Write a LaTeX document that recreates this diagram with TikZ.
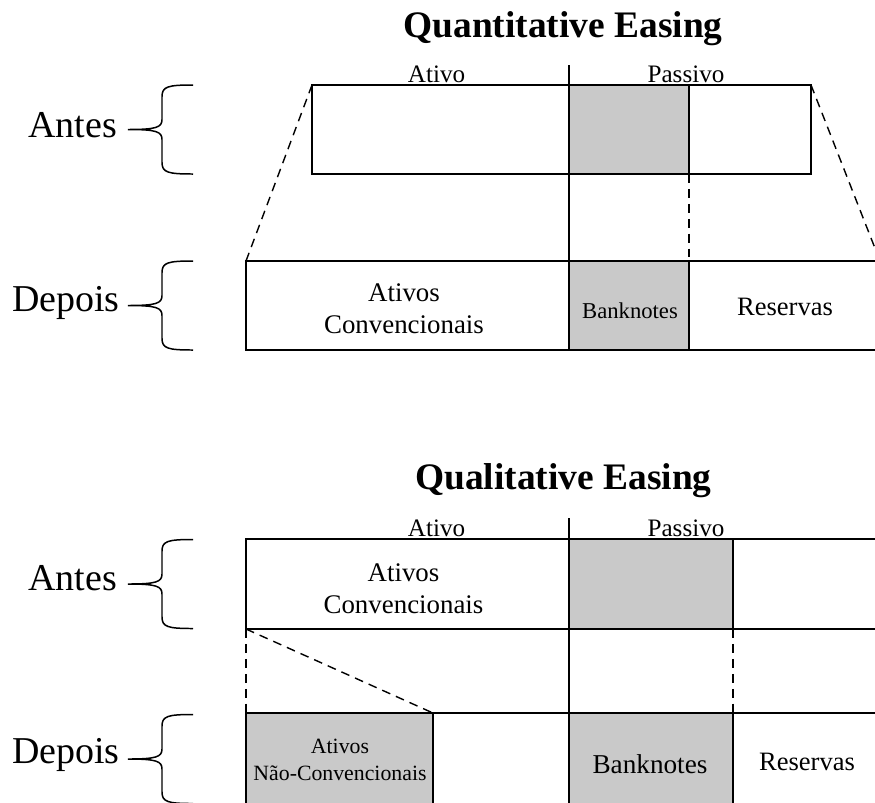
\documentclass[tikz,border=0pt]{standalone}
\usepackage{fontspec}
\setmainfont{Liberation Serif}
\usetikzlibrary{positioning}

\tikzset{
  cell/.style={draw, line width=1.1pt},
  shade/.style={fill=black!21},
  divider/.style={line width=0.7pt},
  guide/.style={line width=0.8pt, dash pattern=on 5pt off 3.5pt},
  heading/.style={inner sep=0pt, anchor=base, font=\bfseries\fontsize{21.3pt}{24pt}\selectfont},
  side/.style={inner sep=0pt, anchor=base, font=\fontsize{14.3pt}{16pt}\selectfont},
  stage/.style={inner sep=0pt, anchor=base, font=\fontsize{21.6pt}{24pt}\selectfont},
  entry/.style={inner sep=0pt, align=center, font=\fontsize{15.3pt}{18.1pt}\selectfont},
  brace/.pic={
    \draw[line width=0.85pt] (65,-44.5) .. controls (40,-44.5) and (34,-43) .. (34,-33)
      -- (34,-10) .. controls (34,-2) and (28,0) .. (0,0)
      .. controls (28,0) and (34,2) .. (34,10) -- (34,33)
      .. controls (34,43) and (40,44.5) .. (65,44.5);
  }
}

\begin{document}
\begin{tikzpicture}[x=0.02cm, y=-0.02cm]
\useasboundingbox (0,0) rectangle (875,802);
\clip (0,0) rectangle (875,802);

% Quantitative Easing
\node[heading] (qetitle) at (563,37) {Quantitative Easing};
\node[side] (qeativo) at (436.5,82) {Ativo};
\node[side] (qepassivo) at (686,82) {Passivo};
\coordinate (qetop) at (569,65);
\coordinate (qebot) at (569,350);

\coordinate (qa-nw) at (312,85);
\coordinate (qa-ne) at (811,85);
\coordinate (qa-gs) at (689,174);
\coordinate (qd-nw) at (246,261);
\coordinate (qd-ne) at (880,261);
\coordinate (qd-gn) at (689,261);

\draw[cell] (qa-nw) rectangle (811,174);
\draw[cell, shade] (569,85) rectangle (qa-gs);
\draw[cell] (qd-nw) rectangle (900,350);
\draw[cell, shade] (569,261) rectangle (689,350);
\draw[divider] (qetop) -- (qebot);

\draw[guide] (qa-nw) -- (qd-nw);
\draw[guide] (qa-ne) -- (qd-ne);
\draw[guide] (qa-gs) -- (qd-gn);

\node[entry] (qconv) at (404,308.5) {Ativos\\Convencionais};
\node[entry, anchor=base, font=\fontsize{12.9pt}{15pt}\selectfont] (qnotes) at (630,318) {Banknotes};
\node[entry, anchor=base, font=\fontsize{15.1pt}{17pt}\selectfont] (qres) at (785,315) {Reservas};

\node[stage] (qantes) at (72.5,137) {Antes};
\node[stage] (qdepois) at (66,311) {Depois};
\pic at (128,129.5) {brace};
\pic at (128,305.5) {brace};

% Qualitative Easing
\node[heading] (qltitle) at (563.5,489) {Qualitative Easing};
\node[side] (qlativo) at (436.5,536) {Ativo};
\node[side] (qlpassivo) at (686,536) {Passivo};
\coordinate (qltop) at (569,518);
\coordinate (qlbot) at (569,820);

\coordinate (la-sw) at (246,629);
\coordinate (la-gs) at (733,629);
\coordinate (ld-nw) at (246,713);
\coordinate (ld-gn) at (433,713);
\coordinate (ld-pn) at (733,713);

\draw[cell] (246,539) rectangle (900,629);
\draw[cell, shade] (569,539) rectangle (la-gs);
\draw[cell] (ld-nw) rectangle (900,820);
\draw[cell, shade] (ld-nw) rectangle (433,820);
\draw[cell, shade] (569,713) rectangle (733,820);
\draw[divider] (qltop) -- (qlbot);

\draw[guide] (la-sw) -- (ld-nw);
\draw[guide] (la-sw) -- (ld-gn);
\draw[guide] (la-gs) -- (ld-pn);

\node[entry] (lconv) at (403.5,589) {Ativos\\Convencionais};
\node[entry, font=\fontsize{12.4pt}{15.3pt}\selectfont] (lnonconv) at (340,760) {Ativos\\Não-Convencionais};
\node[entry, anchor=base, font=\fontsize{15.5pt}{17pt}\selectfont] (lnotes) at (650,773) {Banknotes};
\node[entry, anchor=base, font=\fontsize{15.1pt}{17pt}\selectfont] (lres) at (807,770) {Reservas};

\node[stage] (lantes) at (72.5,590) {Antes};
\node[stage] (ldepois) at (66,763) {Depois};
\pic at (128,584) {brace};
\pic at (128,759) {brace};
\end{tikzpicture}
\end{document}
